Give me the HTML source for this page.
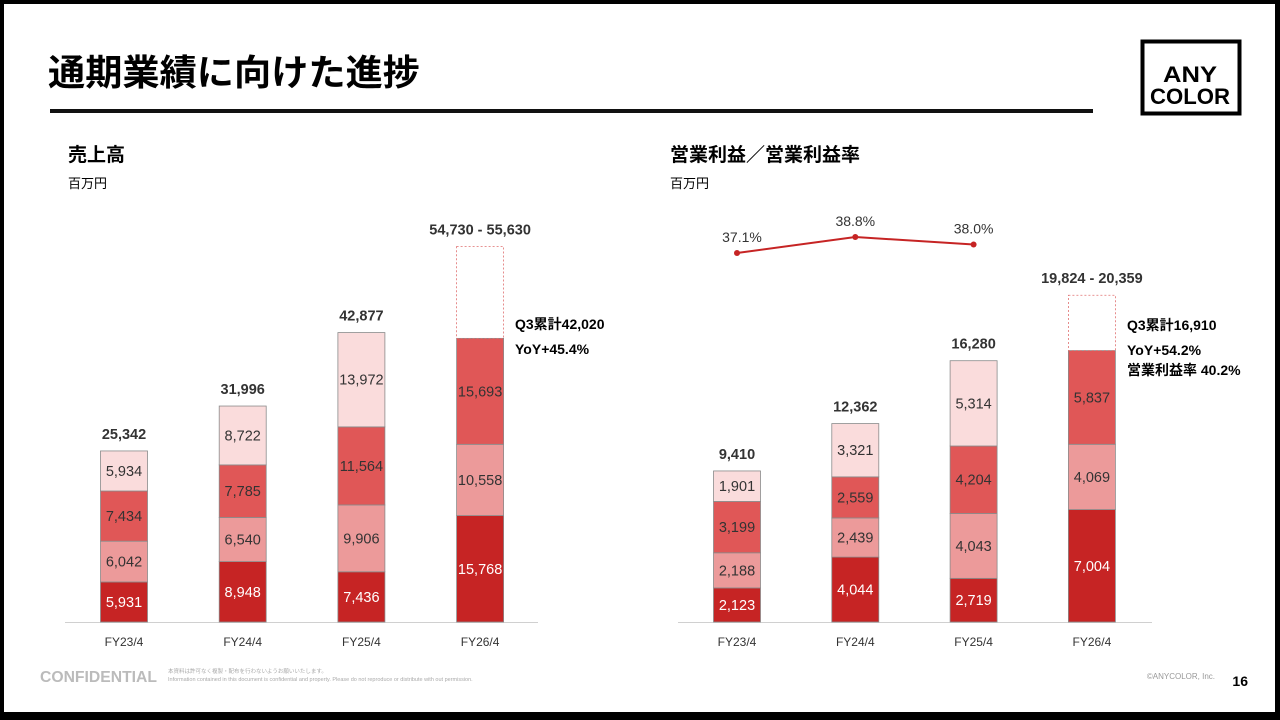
<!DOCTYPE html>
<html><head><meta charset="utf-8">
<style>
html,body{margin:0;padding:0;}
body{width:1280px;height:720px;position:relative;overflow:hidden;background:#000;font-family:"Liberation Sans","Noto Sans CJK JP",sans-serif;}
#page{position:absolute;left:4px;top:4px;width:1271px;height:708px;background:#fff;}
svg text{font-family:"Liberation Sans","Noto Sans CJK JP",sans-serif;}
</style></head>
<body>
<div id="page"></div>
<svg id="chart" width="1280" height="720" style="position:absolute;left:0;top:0">
  <text x="48" y="85" font-size="36" font-weight="bold" fill="#000" textLength="372" lengthAdjust="spacingAndGlyphs">通期業績に向けた進捗</text>
  <rect x="50" y="109" width="1043" height="4" fill="#111"/>
  <g>
    <rect x="1142.5" y="41.5" width="97" height="72" fill="none" stroke="#000" stroke-width="4"/>
    <text x="1190" y="82" font-size="22" font-weight="bold" text-anchor="middle" fill="#000" textLength="54" lengthAdjust="spacingAndGlyphs">ANY</text>
    <text x="1190" y="104" font-size="22" font-weight="bold" text-anchor="middle" fill="#000" textLength="80" lengthAdjust="spacingAndGlyphs">COLOR</text>
  </g>
  <text x="68" y="161" font-size="19" font-weight="bold">売上高</text>
  <text x="68" y="188" font-size="13">百万円</text>
  <text x="670" y="161" font-size="19" font-weight="bold">営業利益／営業利益率</text>
  <text x="670" y="188" font-size="13">百万円</text>
  <line x1="65" x2="538" y1="622.5" y2="622.5" stroke="#d0d0d0"/>
  <line x1="678" x2="1152" y1="622.5" y2="622.5" stroke="#d0d0d0"/>
  <g id="sales"></g>
  <g id="profit"></g>
  <g font-size="14" font-weight="bold" fill="#000">
    <text x="515" y="329">Q3累計42,020</text>
    <text x="515" y="354">YoY+45.4%</text>
  </g>
  <g font-size="14" font-weight="bold" fill="#000">
    <text x="1127" y="330">Q3累計16,910</text>
    <text x="1127" y="355">YoY+54.2%</text>
    <text x="1127" y="375">営業利益率 40.2%</text>
  </g>
  <text x="40" y="682" font-size="16" font-weight="bold" fill="#bbb" textLength="117" lengthAdjust="spacingAndGlyphs">CONFIDENTIAL</text>
  <text x="168" y="673" font-size="5.5" fill="#aaa">本資料は許可なく複製・配布を行わないようお願いいたします。</text>
  <text x="168" y="681" font-size="5.5" fill="#aaa">Information contained in this document is confidential and property. Please do not reproduce or distribute with out permission.</text>
  <text x="1215" y="679" font-size="8" fill="#999" text-anchor="end">©ANYCOLOR, Inc.</text>
  <text x="1248" y="686" font-size="14" font-weight="bold" text-anchor="end">16</text>
</svg>
<script>
const categories = ["FY23/4","FY24/4","FY25/4","FY26/4"];
const salesQ1 = [5931, 8948, 7436, 15768];
const salesQ2 = [6042, 6540, 9906, 10558];
const salesQ3 = [7434, 7785, 11564, 15693];
const salesQ4 = [5934, 8722, 13972, null];
const salesTotals = ["25,342","31,996","42,877","54,730 - 55,630"];
const salesForecastHigh = 55630;
const profitQ1 = [2123, 4044, 2719, 7004];
const profitQ2 = [2188, 2439, 4043, 4069];
const profitQ3 = [3199, 2559, 4204, 5837];
const profitQ4 = [1901, 3321, 5314, null];
const profitTotals = ["9,410","12,362","16,280","19,824 - 20,359"];
const profitForecastHigh = 20359;
const marginPct = [37.1, 38.8, 38.0];

const NS="http://www.w3.org/2000/svg";
const colors=["#c62424","#ec9a9a","#e05757","#fadcdc"];
const textColors=["#fff","#333","#333","#333"];
function mk(parent,tag,attrs,txt){const e=document.createElementNS(NS,tag);for(const k in attrs)e.setAttribute(k,attrs[k]);if(txt!=null)e.textContent=txt;parent.appendChild(e);return e;}
function fmt(v){return v.toLocaleString("en-US");}

function drawChart(g, xs, yScale, series, totals, forecastHigh, prefix){
  const w=47;
  categories.forEach((c,i)=>{
    const cx=xs(i);
    let acc=0;
    series.forEach((s,k)=>{
      const v=s[i]; if(v==null) return;
      const y0=yScale(acc), y1=yScale(acc+v);
      const r=mk(g,"rect",{x:cx-w/2,y:y1,width:w,height:y0-y1,fill:colors[k],stroke:"#8a8a8a","stroke-width":0.8});
      
      
      const t=mk(g,"text",{x:cx,y:(y0+y1)/2+5,"font-size":14.5,"text-anchor":"middle",fill:textColors[k]},fmt(v));
      
      
      acc+=v;
    });
    let topY=yScale(acc);
    if(series[3][i]==null){
      const yt=yScale(forecastHigh);
      const d=mk(g,"rect",{x:cx-w/2,y:yt,width:w,height:topY-yt,fill:"none",stroke:"#e07070","stroke-width":0.8,"stroke-dasharray":"2,2"});
      
      
      topY=yt;
    }
    const tt=mk(g,"text",{x:cx,y:topY-12,"font-size":14.5,"font-weight":"bold","text-anchor":"middle",fill:"#333"},totals[i]);
    
    
    const xl=mk(g,"text",{x:cx,y:646,"font-size":12,"text-anchor":"middle",fill:"#333"},c);
    
    
  });
}
const sg=document.getElementById("sales");
drawChart(sg, i=>124+i*118.7, v=>622-v*0.00675, [salesQ1,salesQ2,salesQ3,salesQ4], salesTotals, salesForecastHigh, "sales");
const pg=document.getElementById("profit");
const pxs=i=>737+i*118.3;
drawChart(pg, pxs, v=>622-v*0.01605, [profitQ1,profitQ2,profitQ3,profitQ4], profitTotals, profitForecastHigh, "profit");
const my=p=>253-(p-37.1)*9.4;
const pts=marginPct.map((p,i)=>pxs(i)+","+my(p)).join(" ");
const pl=mk(pg,"polyline",{points:pts,fill:"none",stroke:"#c62424","stroke-width":2});


marginPct.forEach((p,i)=>{
  const c=mk(pg,"circle",{cx:pxs(i),cy:my(p),r:3,fill:"#c62424"});
  
  
  const t=mk(pg,"text",{x:pxs(i)+(i===0?5:0),y:my(p)-11,"font-size":14,"text-anchor":"middle",fill:"#333"},p.toFixed(1)+"%");
  
  
});
</script>
</body></html>
